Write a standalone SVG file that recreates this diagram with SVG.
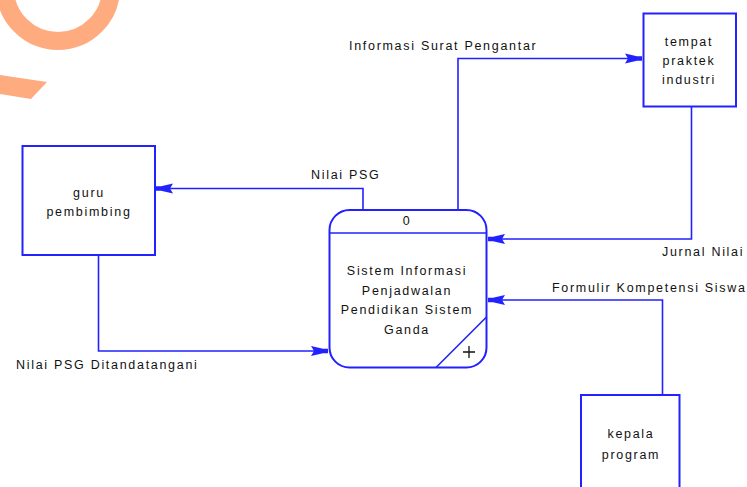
<svg xmlns="http://www.w3.org/2000/svg" width="747" height="487" viewBox="0 0 747 487">
<style>
.box{fill:#fff;stroke:#2222ff;stroke-width:2}
.ln{fill:none;stroke:#2222ff;stroke-width:1.6}
.t{font-family:"Liberation Sans",Arial,sans-serif;font-size:12.5px;letter-spacing:1.7px;fill:#111}
.c{text-anchor:middle}
.wm{fill:#ffab80}
</style>
<defs>
<marker id="arr" markerUnits="userSpaceOnUse" markerWidth="24" markerHeight="14" viewBox="-20 -7 24 14" refX="0" refY="0" orient="auto">
<path d="M0,-2.2 L-5,-2.2 L-17,-5 L-14,0 L-17,5 L-5,2.2 L0,2.2 Z" fill="#2222ff"/>
</marker>
</defs>
<g id="watermark">
<circle cx="58" cy="-12" r="53" fill="none" stroke="#ffab80" stroke-width="18"/>
<polygon class="wm" points="0,75 47,82 31,99 0,94"/>
</g>
<g id="connectors">
<path class="ln" d="M363,210 V188.5 H156" marker-end="url(#arr)"/>
<path class="ln" d="M98.5,255 V351 H328" marker-end="url(#arr)"/>
<path class="ln" d="M458,210 V58.5 H642" marker-end="url(#arr)"/>
<path class="ln" d="M691.5,107 V239 H488" marker-end="url(#arr)"/>
<path class="ln" d="M662.5,395 V300 H488" marker-end="url(#arr)"/>
<text class="t" x="311" y="179">Nilai PSG</text>
<text class="t" x="16" y="369">Nilai PSG Ditandatangani</text>
<text class="t" x="349" y="50">Informasi Surat Pengantar</text>
<text class="t" x="662" y="256">Jurnal Nilai</text>
<text class="t" x="552" y="292">Formulir Kompetensi Siswa</text>
</g>
<g id="process0">
<rect class="box" x="329.5" y="210" width="157" height="157.5" rx="20" ry="20"/>
<line class="ln" x1="329.5" y1="233" x2="486.5" y2="233"/>
<line class="ln" x1="486.5" y1="317" x2="436" y2="367.5"/>
<path d="M469,346 V358 M463,352 H475" stroke="#111" stroke-width="1.3" fill="none"/>
<text class="t c" x="407" y="225">0</text>
<text class="t c" x="407" y="275">Sistem Informasi</text>
<text class="t c" x="407" y="295">Penjadwalan</text>
<text class="t c" x="407" y="314">Pendidikan Sistem</text>
<text class="t c" x="407" y="334">Ganda</text>
</g>
<g id="guru">
<rect class="box" x="22.5" y="146" width="132.5" height="109"/>
<text class="t c" x="89" y="197">guru</text>
<text class="t c" x="89" y="216">pembimbing</text>
</g>
<g id="tempat">
<rect class="box" x="643.5" y="13.5" width="92.5" height="93"/>
<text class="t c" x="689" y="46">tempat</text>
<text class="t c" x="689" y="65">praktek</text>
<text class="t c" x="689" y="84">industri</text>
</g>
<g id="kepala">
<rect class="box" x="581" y="395" width="98.5" height="100"/>
<text class="t c" x="631" y="438">kepala</text>
<text class="t c" x="631" y="459">program</text>
</g>
</svg>
